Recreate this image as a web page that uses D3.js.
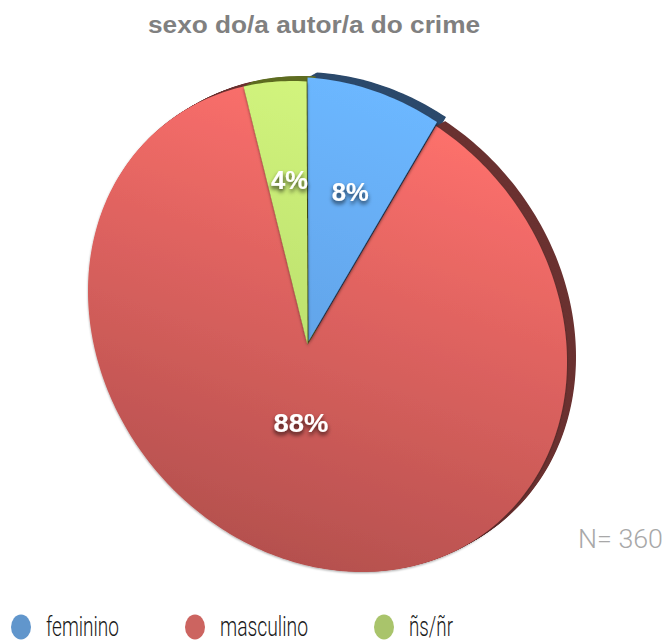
<!DOCTYPE html>
<html>
<head>
<meta charset="utf-8">
<script src="https://cdn.jsdelivr.net/npm/d3@7"></script>
<style>
  html, body { margin: 0; padding: 0; background: #ffffff; }
  svg { display: block; }
</style>
</head>
<body>
<svg id="chart" width="668" height="643"></svg>
<script>
// ---- data ----
const title = "sexo do/a autor/a do crime";
const categories = ["feminino", "masculino", "ñs/ñr"];
const values = [8, 88, 4];
const valueLabels = ["8%", "88%", "4%"];
const sampleNote = "N= 360";

// ---- styling ----
const faceTop = ["#6cb7ff", "#ff716d", "#d3f57e"];
const faceBottom = ["#5a94d6", "#b24f4d", "#a9cf60"];
const wallColor = ["#2c4a6c", "#6b3231", "#5f6d22"];
const legendColor = ["#6196cc", "#cc6460", "#a9c46b"];

const svg = d3.select("#chart");
const defs = svg.append("defs");

// Tilted disc: the rim is an ellipse, the hub sits off its centre (perspective)
const rim = { cx: 327.5, cy: 326.5, w: 239.5, h: 245.5, q: 8500 };
const hub = [307.5, 345];
const l11 = rim.w, l21 = rim.q / rim.w, l22 = Math.sqrt(rim.h * rim.h - l21 * l21);
const pu = (hub[0] - rim.cx) / l11;
const pv = (hub[1] - rim.cy - l21 * pu) / l22;
const tt = Math.hypot(pu, pv), nx = pu / tt, ny = pv / tt, ss = Math.sqrt(1 - tt * tt);

// maps (angle, radius fraction) on a flat unit pie to the page
function project(angle, rho) {
  const x = rho * Math.sin(angle), y = -rho * Math.cos(angle);
  const d = x * nx + y * ny;
  const px = x - d * nx, py = y - d * ny;
  const den = 1 + tt * d;
  const u = ((d + tt) * nx + ss * px) / den;
  const v = ((d + tt) * ny + ss * py) / den;
  return [rim.cx + l11 * u, rim.cy + l21 * u + l22 * v];
}

const pie = d3.pie().sort(null).value(d => d.value);
const slices = pie(categories.map((c, i) => ({ name: c, value: values[i], i })));

const line = d3.line().curve(d3.curveLinearClosed);
function slicePoints(s) {
  const pts = [project(0, 0)];
  const n = Math.max(4, Math.ceil((s.endAngle - s.startAngle) / (Math.PI / 180)));
  for (let k = 0; k <= n; k++) {
    const a = s.startAngle + (s.endAngle - s.startAngle) * k / n;
    pts.push(project(a, 1));
  }
  return pts;
}

// pull the first slice out slightly along its bisector
function explodeOffset(s, dist) {
  const mid = (s.startAngle + s.endAngle) / 2;
  const a = project(mid, 1), o = project(mid, 0);
  const len = Math.hypot(a[0] - o[0], a[1] - o[1]);
  return [(a[0] - o[0]) / len * dist, (a[1] - o[1]) / len * dist];
}
const explode = [4, 0, 0];

// gradients
slices.forEach((s, i) => {
  const g = defs.append("linearGradient")
    .attr("id", "face" + i)
    .attr("gradientUnits", "userSpaceOnUse")
    .attr("x1", 430).attr("y1", 110).attr("x2", 270).attr("y2", 575);
  g.append("stop").attr("offset", 0).attr("stop-color", faceTop[i]);
  g.append("stop").attr("offset", 1).attr("stop-color", faceBottom[i]);
});

const shadow = defs.append("filter").attr("id", "sliceShadow")
  .attr("x", "-20%").attr("y", "-20%").attr("width", "140%").attr("height", "140%");
shadow.append("feDropShadow").attr("dx", 0.5).attr("dy", 2)
  .attr("stdDeviation", 1.6).attr("flood-color", "#000").attr("flood-opacity", 0.55);

const textShadow = defs.append("filter").attr("id", "textShadow")
  .attr("x", "-30%").attr("y", "-30%").attr("width", "160%").attr("height", "170%");
textShadow.append("feDropShadow").attr("dx", 0).attr("dy", 3)
  .attr("stdDeviation", 2).attr("flood-color", "#000").attr("flood-opacity", 0.7);

const rimShadow = defs.append("filter").attr("id", "rimShadow")
  .attr("x", "-10%").attr("y", "-10%").attr("width", "120%").attr("height", "120%");
rimShadow.append("feDropShadow").attr("dx", 0).attr("dy", 1)
  .attr("stdDeviation", 1.2).attr("flood-color", "#000").attr("flood-opacity", 0.35);

// side walls (extrusion toward the upper right)
const depth = [9, -5], steps = 12;
const wallG = svg.append("g");
slices.forEach((s, i) => {
  const off = explodeOffset(s, explode[i]);
  const pts = slicePoints(s);
  for (let k = steps; k >= 1; k--) {
    const dx = off[0] + depth[0] * k / steps, dy = off[1] + depth[1] * k / steps;
    wallG.append("path")
      .attr("d", line(pts.map(p => [p[0] + dx, p[1] + dy])))
      .attr("fill", wallColor[i]);
  }
});

// faces: big slice first, the small ones cast a soft shadow onto it
const order = [1, 0, 2];
const faceG = svg.append("g");
order.forEach(i => {
  const s = slices[i];
  const off = explodeOffset(s, explode[i]);
  faceG.append("path")
    .attr("d", line(slicePoints(s).map(p => [p[0] + off[0], p[1] + off[1]])))
    .attr("fill", `url(#face${i})`)
    .attr("filter", i === 1 ? "url(#rimShadow)" : "url(#sliceShadow)");
});

// value labels
const labelRadius = [0.64, 0.34, 0.65];
const labelWidth = [37, 55, 37];
svg.append("g").selectAll("text").data(slices).join("text")
  .attr("x", (s, i) => project((s.startAngle + s.endAngle) / 2, labelRadius[i])[0] + 3)
  .attr("y", (s, i) => project((s.startAngle + s.endAngle) / 2, labelRadius[i])[1] + 1)
  .attr("dy", "0.36em")
  .attr("text-anchor", "middle")
  .attr("font-family", "'Liberation Sans', Arial, sans-serif")
  .attr("font-weight", "bold")
  .attr("font-size", 25)
  .attr("fill", "#ffffff")
  .attr("textLength", (s, i) => labelWidth[i])
  .attr("lengthAdjust", "spacingAndGlyphs")
  .attr("filter", "url(#textShadow)")
  .text((s, i) => valueLabels[i]);

// title
svg.append("text")
  .attr("x", 314).attr("y", 33)
  .attr("text-anchor", "middle")
  .attr("font-family", "'Liberation Sans', Arial, sans-serif")
  .attr("font-weight", "bold")
  .attr("font-size", 23)
  .attr("fill", "#808080")
  .attr("textLength", 332)
  .attr("lengthAdjust", "spacingAndGlyphs")
  .text(title);

// sample size note
svg.append("text")
  .attr("x", 578).attr("y", 548)
  .attr("font-family", "Roboto, 'Liberation Sans', sans-serif")
  .attr("font-weight", 300)
  .attr("font-size", 25)
  .attr("fill", "#a8a8a8")
  .attr("textLength", 85)
  .attr("lengthAdjust", "spacingAndGlyphs")
  .text(sampleNote);

// legend
const legendX = d3.scaleOrdinal().domain(categories).range([21, 195, 384]);
const legendTextWidth = [73, 88, 44];
const legend = svg.append("g").selectAll("g").data(categories).join("g")
  .attr("transform", d => `translate(${legendX(d)},627)`);
legend.append("ellipse")
  .attr("rx", 10).attr("ry", 12.5)
  .attr("fill", (d, i) => legendColor[i]);
legend.append("text")
  .attr("x", 25).attr("y", 9)
  .attr("font-family", "Roboto, 'Liberation Sans', sans-serif")
  .attr("font-weight", 300)
  .attr("font-size", 28)
  .attr("fill", "#1a1a1a")
  .attr("textLength", (d, i) => legendTextWidth[i])
  .attr("lengthAdjust", "spacingAndGlyphs")
  .text(d => d);
</script>
</body>
</html>
